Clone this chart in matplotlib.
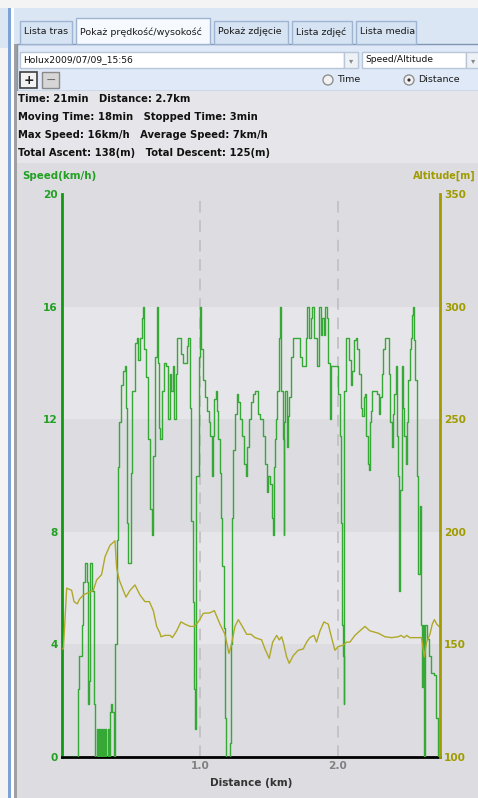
import matplotlib
matplotlib.use("Agg")
import matplotlib.pyplot as plt
import matplotlib.patches as mpatches

# speed trace (km, km/h)
dist = [0.0, 0.11, 0.118, 0.135, 0.150, 0.159, 0.174, 0.184, 0.191, 0.198,
        0.215, 0.227, 0.232, 0.239, 0.246, 0.255, 0.262, 0.270, 0.278, 0.286,
        0.294, 0.302, 0.31, 0.318, 0.326, 0.334, 0.342, 0.350, 0.360, 0.372,
        0.384, 0.391, 0.40, 0.408, 0.42, 0.432, 0.449, 0.461, 0.469, 0.476,
        0.486, 0.498, 0.505, 0.517, 0.536, 0.548, 0.56, 0.572, 0.585, 0.594,
        0.601, 0.618, 0.633, 0.643, 0.657, 0.667, 0.681, 0.691, 0.697, 0.703,
        0.717, 0.734, 0.746, 0.758, 0.775, 0.787, 0.80, 0.809, 0.819, 0.831,
        0.843, 0.855, 0.872, 0.886, 0.901, 0.911, 0.92, 0.93, 0.94, 0.952,
        0.959, 0.966, 0.971, 0.988, 0.998, 1.005, 1.017, 1.027, 1.041, 1.056,
        1.072, 1.08, 1.089, 1.099, 1.109, 1.121, 1.128, 1.138, 1.147, 1.157,
        1.169, 1.181, 1.188, 1.196, 1.21, 1.22, 1.227, 1.234, 1.244, 1.259,
        1.273, 1.283, 1.297, 1.312, 1.326, 1.338, 1.35, 1.365, 1.379, 1.391,
        1.411, 1.43, 1.447, 1.464, 1.478, 1.488, 1.502, 1.514, 1.524, 1.531,
        1.536, 1.546, 1.556, 1.568, 1.58, 1.587, 1.594, 1.604, 1.609, 1.616,
        1.623, 1.633, 1.643, 1.652, 1.667, 1.676, 1.72, 1.737, 1.749, 1.763,
        1.773, 1.785, 1.797, 1.809, 1.821, 1.833, 1.845, 1.857, 1.87, 1.882,
        1.894, 1.903, 1.913, 1.923, 1.932, 1.947, 1.957, 1.971, 1.995, 2.01,
        2.019, 2.029, 2.034, 2.039, 2.043, 2.051, 2.063, 2.07, 2.085, 2.099,
        2.111, 2.123, 2.135, 2.147, 2.159, 2.172, 2.184, 2.191, 2.2, 2.21,
        2.22, 2.227, 2.234, 2.244, 2.254, 2.273, 2.292, 2.302, 2.312, 2.321,
        2.336, 2.345, 2.365, 2.374, 2.384, 2.394, 2.403, 2.413, 2.425, 2.432,
        2.442, 2.449, 2.457, 2.466, 2.476, 2.486, 2.495, 2.505, 2.514, 2.524,
        2.534, 2.541, 2.548, 2.556, 2.565, 2.575, 2.587, 2.601, 2.606, 2.614,
        2.621, 2.626, 2.636, 2.65, 2.667, 2.684, 2.708, 2.717, 2.727]
speed = [0, 0, 2.4, 3.6, 4.7, 6.2, 6.9, 6.2, 1.9, 2.7,
         6.9, 5.9, 2.7, 1.9, 0, 1.0, 0, 1.0, 0, 1.0,
         0, 1.0, 0, 1.0, 0, 1.0, 0, 1.6, 1.9, 1.6,
         0, 4.0, 7.7, 10.3, 11.9, 13.2, 13.7, 13.9, 12.4, 8.3,
         6.9, 6.9, 10.1, 13.0, 14.7, 14.9, 14.1, 14.9, 15.6, 16.0,
         14.5, 13.5, 11.3, 8.8, 7.9, 10.7, 14.2, 16.0, 14.0, 11.7,
         11.3, 13.0, 14.0, 13.9, 12.0, 13.6, 13.0, 13.9, 12.0, 13.6,
         14.9, 14.9, 14.3, 14.0, 14.0, 14.6, 14.9, 12.4, 8.4, 5.5,
         2.4, 1.0, 10.0, 10.0, 14.2, 16.0, 14.5, 13.4, 12.8, 12.3,
         11.9, 11.4, 10.0, 11.4, 12.7, 13.0, 12.3, 11.3, 10.1, 8.5,
         6.8, 4.6, 1.4, 0, 0, 0.5, 4.0, 8.5, 10.9, 12.2,
         12.9, 12.6, 12.0, 11.4, 10.4, 10.0, 11.0, 12.0, 12.6, 12.9,
         13.0, 12.2, 12.0, 11.4, 10.4, 9.4, 10.0, 9.7, 8.5, 7.9,
         10.3, 11.3, 12.0, 13.0, 14.9, 16.0, 13.0, 11.3, 7.9, 11.9,
         13.0, 11.0, 12.1, 12.8, 14.2, 14.9, 14.9, 14.2, 13.9, 13.9,
         14.9, 16.0, 14.9, 15.6, 16.0, 14.9, 14.9, 13.9, 16.0, 15.0,
         15.6, 15.0, 16.0, 15.6, 14.0, 12.0, 13.9, 13.9, 13.9, 12.9,
         11.4, 8.3, 4.7, 3.6, 1.9, 13.0, 14.9, 14.9, 14.1, 13.2,
         13.7, 14.8, 14.9, 14.5, 13.6, 12.4, 12.1, 12.8, 12.9, 11.4,
         10.4, 10.2, 11.9, 12.3, 13.0, 13.0, 12.9, 12.2, 12.8, 13.6,
         14.5, 14.9, 14.9, 13.6, 11.9, 11.0, 12.2, 12.9, 13.9, 11.4,
         10.0, 5.9, 9.5, 13.9, 12.4, 11.4, 10.4, 11.9, 13.4, 14.5,
         14.9, 15.7, 16.0, 14.8, 13.4, 10.0, 6.5, 8.9, 4.7, 2.5,
         4.7, 0, 4.7, 4.2, 3.6, 3.0, 2.9, 1.4, 0]

# altitude trace (km, m)
alt_dist = [0.0, 0.010, 0.034, 0.070, 0.087, 0.111, 0.126, 0.155, 0.191, 0.227,
            0.251, 0.287, 0.312, 0.348, 0.384, 0.396, 0.415, 0.444, 0.464, 0.493,
            0.529, 0.565, 0.601, 0.633, 0.662, 0.686, 0.71, 0.717, 0.746, 0.783,
            0.80, 0.831, 0.862, 0.891, 0.928, 0.959, 0.988, 1.024, 1.072, 1.104,
            1.145, 1.181, 1.21, 1.225, 1.254, 1.278, 1.307, 1.338, 1.37, 1.399,
            1.447, 1.471, 1.502, 1.527, 1.556, 1.575, 1.592, 1.604, 1.628, 1.647,
            1.676, 1.712, 1.749, 1.773, 1.797, 1.826, 1.845, 1.87, 1.899, 1.93,
            1.954, 1.978, 2.002, 2.039, 2.063, 2.087, 2.123, 2.159, 2.196, 2.232,
            2.292, 2.341, 2.389, 2.437, 2.457, 2.481, 2.498, 2.522, 2.606, 2.626,
            2.643, 2.667, 2.684, 2.699, 2.717, 2.732]
altitude = [148, 148, 175, 174, 169, 168, 170, 172, 173, 174,
            178.6, 181, 189, 194, 196, 184, 178.6, 174, 171, 174,
            176.4, 172, 169, 169, 165, 158, 155, 153.4, 154, 154,
            153, 156, 160, 159, 158, 158, 160, 163.8, 164, 165,
            159, 154.5, 146, 149, 158, 161, 158, 154.5, 154.5, 153,
            152, 148, 143.8, 151, 154, 152, 153.4, 151, 144.5, 141.6,
            145, 147.4, 148, 151, 153, 154, 151, 156, 160, 159,
            153, 147.4, 149, 149.7, 151, 151, 154, 156, 158, 156,
            155, 153.4, 153, 153.4, 154, 153, 154, 153, 153, 144.5,
            151, 154.5, 159, 161, 159, 158]

speed_ticks = [0, 4, 8, 12, 16, 20]
alt_ticks = [100, 150, 200, 250, 300, 350]
dist_ticks = [1.0, 2.0]
dist_labels = ['1.0', '2.0']

tabs = ['Lista tras', 'Pokaż prędkość/wysokość', 'Pokaż zdjęcie', 'Lista zdjęć', 'Lista media']
stats = ['Time: 21min   Distance: 2.7km',
         'Moving Time: 18min   Stopped Time: 3min',
         'Max Speed: 16km/h   Average Speed: 7km/h',
         'Total Ascent: 138(m)   Total Descent: 125(m)']

GREEN = '#22a022'
OLIVE = '#a09c00'
DARK_BG = '#dcdce1'
LIGHT_BG = '#e6e6ea'

W, H = 478, 798
fig = plt.figure(figsize=(W / 100, H / 100), dpi=100)

# ---- window chrome drawn in pixel coordinates ----
bg = fig.add_axes([0, 0, 1, 1])
bg.set_xlim(0, W)
bg.set_ylim(H, 0)
bg.axis('off')

def box(x, y, w, h, fc, ec='none', lw=1, z=1):
    bg.add_patch(mpatches.Rectangle((x, y), w, h, facecolor=fc, edgecolor=ec, linewidth=lw, zorder=z))

box(0, 0, W, H, '#f4f4f4')
box(0, 8, W, 40, '#dbe6f5')
box(8, 8, 3, H, '#7da2d6')
box(11, 8, 3, H, '#ffffff')
box(14, 44, 3, H, '#a0a0a0')
box(17, 44, W, 47, '#dfe9f7', ec='#8096b4')
box(17, 91, W, 72, LIGHT_BG)
box(17, 163, W, H, DARK_BG)

# tabs
tab_x = [20, 76, 214, 292, 356]
tab_w = [52, 134, 74, 60, 60]
for tx, tw, t in zip(tab_x, tab_w, tabs):
    sel = t.startswith('Pokaż pr')
    box(tx, 18 if sel else 21, tw, 26 if sel else 23, '#f6f9fd' if sel else '#d6e3f3',
        ec='#9fb4d0', z=2)
    bg.text(tx + 4, 32, t, fontsize=6.8, color='#1a1a1a', va='center', zorder=3)

# combo boxes
box(20, 52, 324, 16, 'white', ec='#b8c6d8', z=2)
box(344, 52, 14, 16, '#eef2f7', ec='#b8c6d8', z=2)
bg.text(351, 61, '▾', fontsize=6, color='#888888', ha='center', va='center', zorder=3)
bg.text(23, 60, 'Holux2009/07/09_15:56', fontsize=6.6, color='#111111', va='center', zorder=3)
box(362, 52, 104, 16, 'white', ec='#b8c6d8', z=2)
box(466, 52, 14, 16, '#eef2f7', ec='#b8c6d8', z=2)
bg.text(473, 61, '▾', fontsize=6, color='#888888', ha='center', va='center', zorder=3)
bg.text(365, 60, 'Speed/Altitude', fontsize=6.6, color='#111111', va='center', zorder=3)

# +/- buttons
box(20, 72, 17, 16, '#f2f2f2', ec='#404040', lw=1.2, z=2)
bg.text(28.5, 80, '+', fontsize=9, fontweight='bold', color='#202020', ha='center', va='center', zorder=3)
box(42, 72, 17, 16, '#d6d6d6', ec='#8a8a8a', lw=1, z=2)
bg.text(50.5, 80, '−', fontsize=9, color='#707070', ha='center', va='center', zorder=3)

# radio buttons
bg.add_patch(mpatches.Circle((328, 80), 5, facecolor='#f2f2f2', edgecolor='#909090', zorder=2))
bg.text(337, 80, 'Time', fontsize=6.8, color='#1a1a1a', va='center', zorder=3)
bg.add_patch(mpatches.Circle((409, 80), 5, facecolor='#f2f2f2', edgecolor='#909090', zorder=2))
bg.add_patch(mpatches.Circle((409, 80), 1.6, facecolor='#333333', zorder=3))
bg.text(418, 80, 'Distance', fontsize=6.8, color='#1a1a1a', va='center', zorder=3)

# summary lines
for i, s in enumerate(stats):
    bg.text(18, 99 + i * 18, s, fontsize=7.2, fontweight='bold', color='#111111', va='center')

bg.text(22, 176, 'Speed(km/h)', fontsize=7.4, fontweight='bold', color=GREEN, va='center')
bg.text(476, 176, 'Altitude[m]', fontsize=6.9, fontweight='bold', color=OLIVE, va='center', ha='right')

# ---- chart ----
ax = fig.add_axes([62 / W, (H - 757) / H, 378 / W, 563 / H])
ax.set_facecolor(DARK_BG)
ax.set_xlim(0, 2.74)
ax.set_ylim(0, 20)
for lo in (4, 12):
    ax.axhspan(lo, lo + 4, color=LIGHT_BG, lw=0, zorder=0)
for d in dist_ticks:
    ax.axvline(d, color='#c4c4c6', lw=1.4, ls=(0, (6, 4)), zorder=1)

ax.plot(dist, speed, color='#36a836', lw=1.0, drawstyle='steps-mid', zorder=3)

ax.set_yticks(speed_ticks)
ax.set_yticklabels([str(v) for v in speed_ticks], color=GREEN, fontweight='bold', fontsize=7.6)
ax.set_xticks(dist_ticks)
ax.set_xticklabels(dist_labels, color='#808080', fontweight='bold', fontsize=7.6)
ax.tick_params(axis='both', length=0, pad=3)
ax.set_xlabel('Distance (km)', fontsize=7.6, fontweight='bold', color='#333333', labelpad=5)

ax.spines['top'].set_visible(False)
ax.spines['right'].set_visible(False)
ax.spines['left'].set_color('#119911')
ax.spines['left'].set_linewidth(2)
ax.spines['bottom'].set_color('black')
ax.spines['bottom'].set_linewidth(2)

ax2 = ax.twinx()
ax2.set_ylim(100, 350)
ax2.plot(alt_dist, altitude, color='#b0a828', lw=1.0, zorder=2)
ax2.set_yticks(alt_ticks)
ax2.set_yticklabels([str(v) for v in alt_ticks], color=OLIVE, fontweight='bold', fontsize=7.6)
ax2.tick_params(axis='y', length=0, pad=3)
for s in ('top', 'left', 'bottom'):
    ax2.spines[s].set_visible(False)
ax2.spines['right'].set_color(OLIVE)
ax2.spines['right'].set_linewidth(2)

fig.savefig('out.png', dpi=100)
